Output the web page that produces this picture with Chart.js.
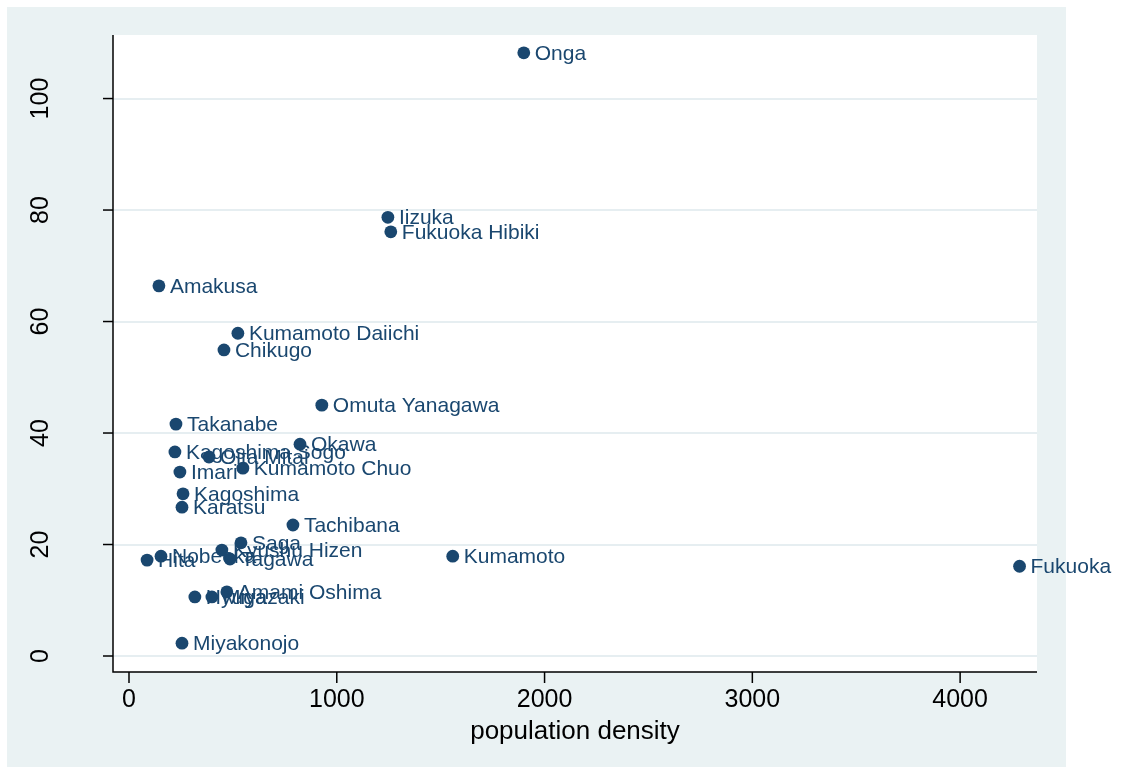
<!DOCTYPE html>
<html>
<head>
<meta charset="utf-8">
<style>
  html, body { margin: 0; padding: 0; background: #ffffff; }
  canvas { display: block; }
</style>
<script src="https://cdn.jsdelivr.net/npm/chart.js@4/dist/chart.umd.min.js"></script>
</head>
<body>
<canvas id="c" width="1122" height="774"></canvas>
<script>
// Sites and their values
const sites = [
  'Onga', 'Iizuka', 'Fukuoka Hibiki', 'Amakusa', 'Kumamoto Daiichi', 'Chikugo',
  'Omuta Yanagawa', 'Takanabe', 'Okawa', 'Kagoshima Sogo', 'Oita Mitai',
  'Kumamoto Chuo', 'Imari', 'Kagoshima', 'Karatsu', 'Tachibana', 'Saga',
  'Kyushu Hizen', 'Tagawa', 'Nobeoka', 'Hita', 'Kumamoto', 'Fukuoka',
  'Amami Oshima', 'Miyazaki', 'Hyuga', 'Miyakonojo'
];
const density = [
  1900, 1246, 1260, 144, 524, 457,
  928, 226, 823, 221, 385,
  548, 245, 260, 255, 789, 539,
  447, 486, 154, 87, 1558, 4286,
  471, 399, 317, 255
];
const rate = [
  108.2, 78.7, 76.1, 66.4, 57.9, 54.9,
  45.0, 41.6, 38.0, 36.6, 35.7,
  33.7, 33.0, 29.1, 26.7, 23.5, 20.3,
  19.0, 17.4, 17.9, 17.2, 17.9, 16.1,
  11.5, 10.6, 10.6, 2.3
];

const xTicks = [0, 1000, 2000, 3000, 4000];
const yTicks = [0, 20, 40, 60, 80, 100];
const xTitle = 'population density';

const NAVY = '#1a476f';
const PANEL = '#eaf2f3';
const FONT = '"Liberation Sans", Arial, Helvetica, sans-serif';

function drawText(ctx, text, x, y, size, color, align, baseline, rotated) {
  ctx.save();
  ctx.translate(x, y);
  if (rotated) ctx.rotate(-Math.PI / 2);
  ctx.font = size + 'px ' + FONT;
  ctx.fillStyle = color;
  ctx.textAlign = align;
  ctx.textBaseline = baseline;
  ctx.fillText(text, 0, 0);
  ctx.restore();
}

const framePlugin = {
  id: 'frame',
  beforeDraw(chart) {
    const ctx = chart.ctx;
    const a = chart.chartArea;
    ctx.save();
    ctx.fillStyle = '#ffffff';
    ctx.fillRect(0, 0, chart.width, chart.height);
    ctx.fillStyle = PANEL;
    ctx.fillRect(7, 7, 1059, 760);
    ctx.fillStyle = '#ffffff';
    ctx.fillRect(a.left, a.top, a.right - a.left, a.bottom - a.top);
    ctx.restore();
  },
  afterDatasetsDraw(chart) {
    const ctx = chart.ctx;
    const meta = chart.getDatasetMeta(0);
    meta.data.forEach((pt, i) => {
      drawText(ctx, sites[i], pt.x + 11, pt.y + 1, 21, NAVY, 'left', 'middle', false);
    });
  },
  afterDraw(chart) {
    const ctx = chart.ctx;
    const a = chart.chartArea;
    const xs = chart.scales.x;
    const ys = chart.scales.y;
    ctx.save();
    ctx.strokeStyle = '#000000';
    ctx.lineWidth = 1.5;
    ctx.beginPath();
    ctx.moveTo(a.left, a.top);
    ctx.lineTo(a.left, a.bottom);
    ctx.lineTo(a.right, a.bottom);
    ctx.stroke();
    // y ticks
    ys.ticks.forEach(t => {
      const py = ys.getPixelForValue(t.value);
      ctx.beginPath();
      ctx.moveTo(a.left - 10, py);
      ctx.lineTo(a.left, py);
      ctx.stroke();
      drawText(ctx, String(t.value), 41, py, 25, '#000000', 'center', 'middle', true);
    });
    // x ticks
    xs.ticks.forEach(t => {
      const px = xs.getPixelForValue(t.value);
      ctx.beginPath();
      ctx.moveTo(px, a.bottom);
      ctx.lineTo(px, a.bottom + 11);
      ctx.stroke();
      drawText(ctx, String(t.value), px, 707, 25, '#000000', 'center', 'alphabetic', false);
    });
    ctx.restore();
    drawText(ctx, xTitle, (a.left + a.right) / 2, 739, 26, '#000000', 'center', 'alphabetic', false);
  }
};

new Chart(document.getElementById('c'), {
  type: 'scatter',
  data: {
    datasets: [{
      data: density.map((d, i) => ({ x: d, y: rate[i] })),
      backgroundColor: NAVY,
      borderColor: NAVY,
      borderWidth: 0,
      pointRadius: 6.4,
      pointHoverRadius: 6.4
    }]
  },
  options: {
    responsive: false,
    animation: false,
    devicePixelRatio: 1,
    layout: { padding: { left: 113, top: 35, right: 85, bottom: 102 } },
    plugins: { legend: { display: false }, tooltip: { enabled: false } },
    scales: {
      x: {
        type: 'linear', min: -77, max: 4370,
        ticks: { display: false },
        grid: { display: false, drawTicks: false },
        border: { display: false },
        afterBuildTicks: s => { s.ticks = xTicks.map(v => ({ value: v })); }
      },
      y: {
        type: 'linear', min: -2.87, max: 111.4,
        ticks: { display: false },
        grid: { color: '#e6eef1', lineWidth: 2, drawTicks: false },
        border: { display: false },
        afterBuildTicks: s => { s.ticks = yTicks.map(v => ({ value: v })); }
      }
    }
  },
  plugins: [framePlugin]
});
</script>
</body>
</html>
